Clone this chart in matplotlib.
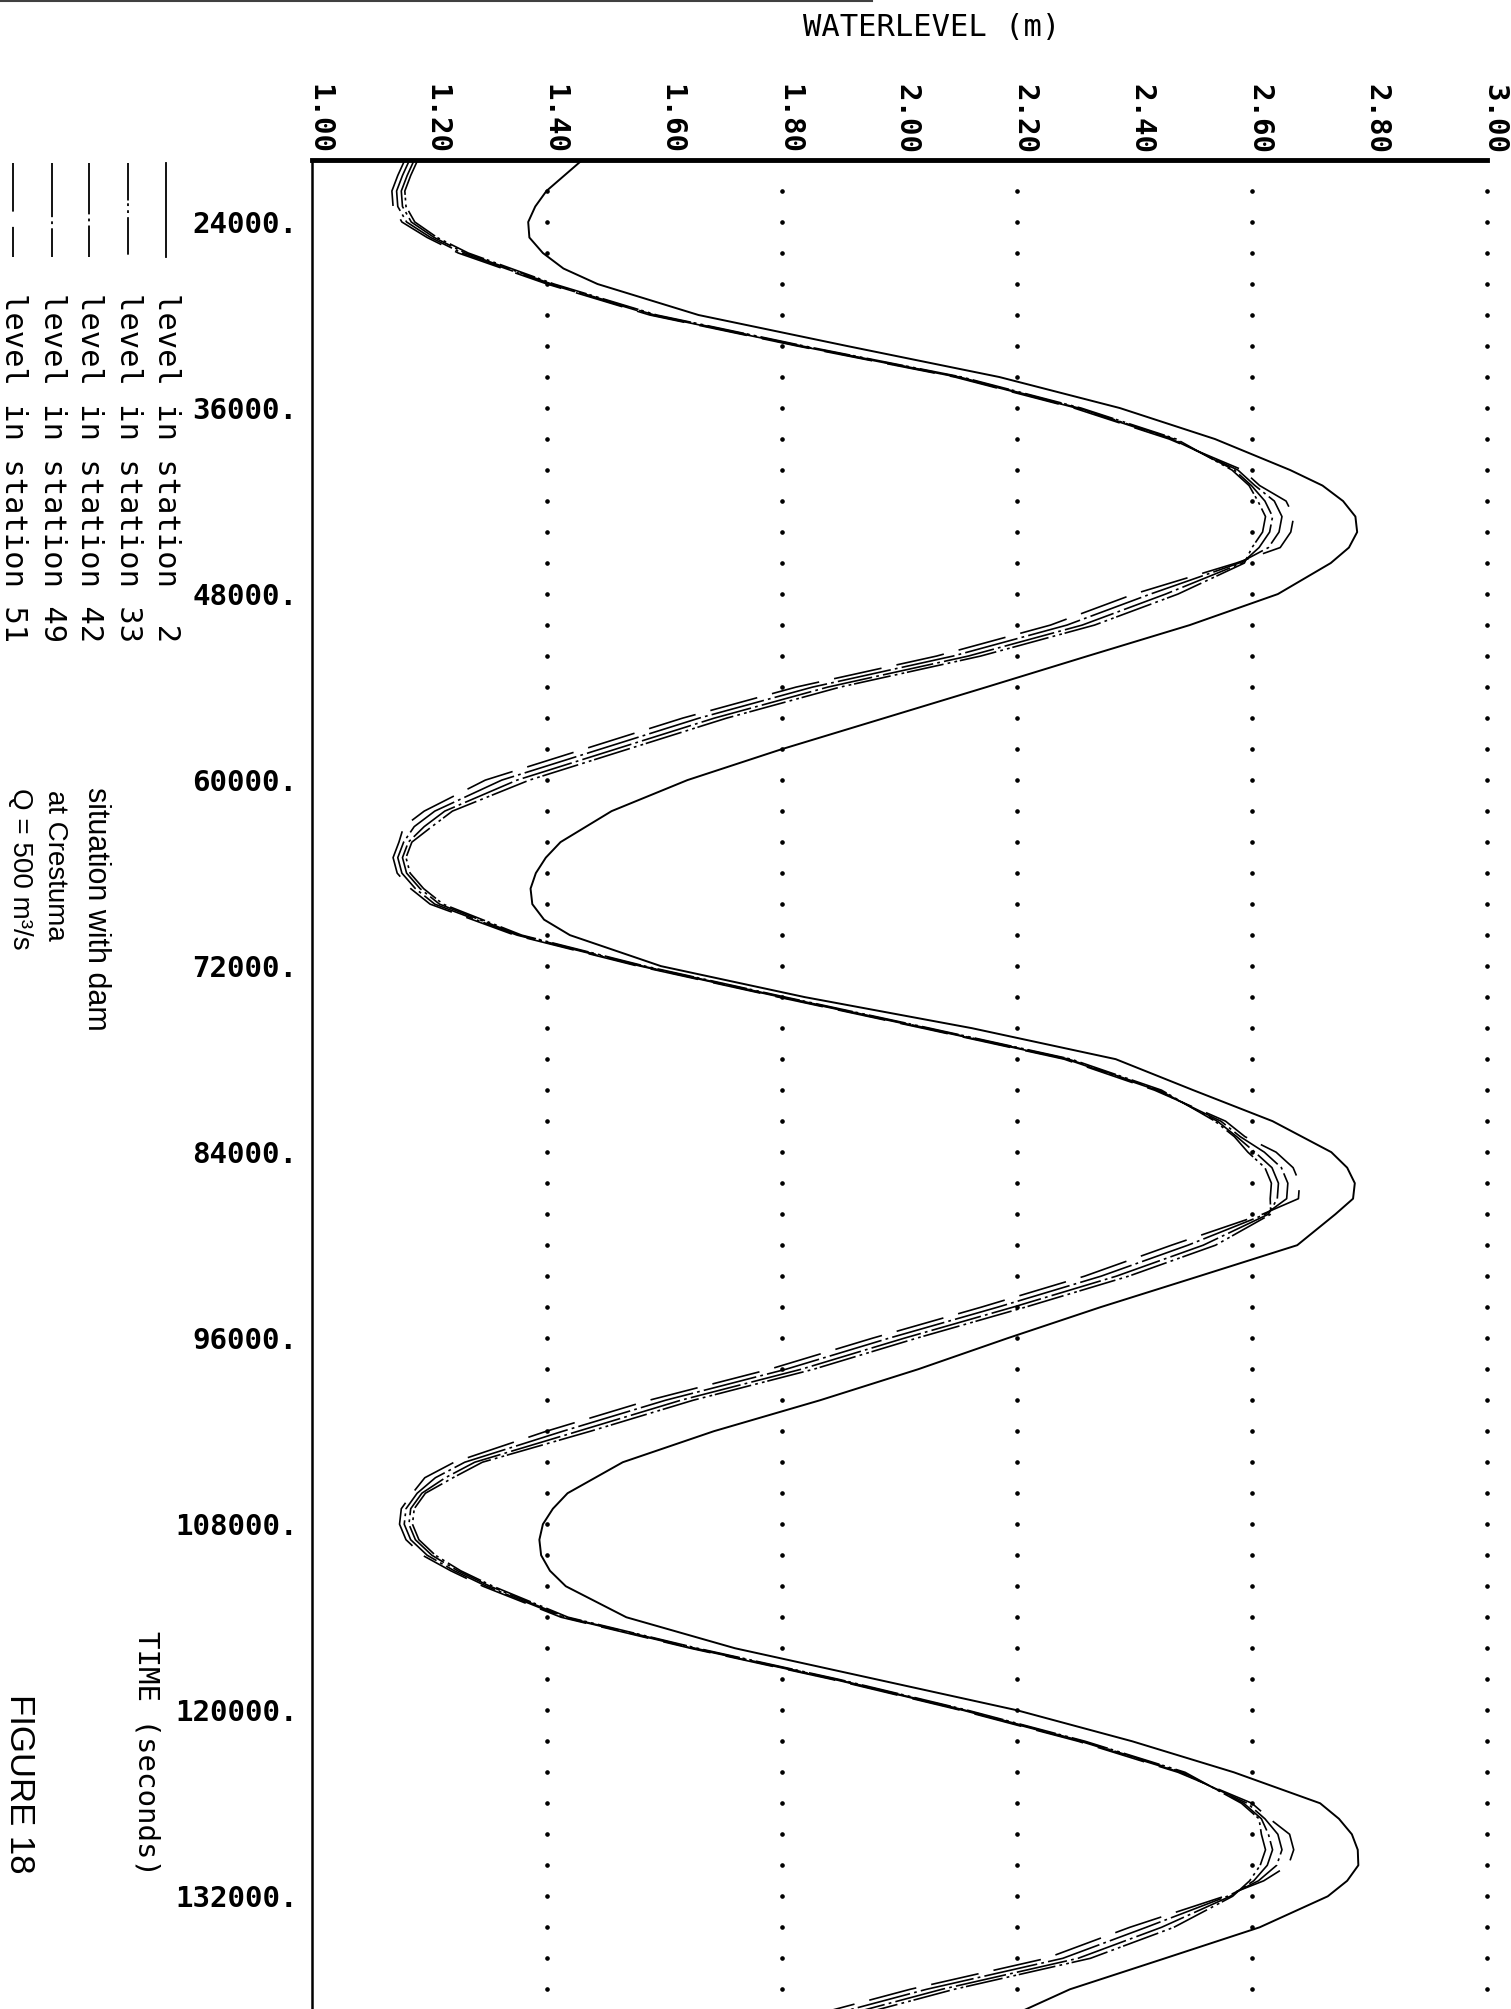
import numpy as np
import matplotlib
matplotlib.use("Agg")
from matplotlib import pyplot as plt
from matplotlib.lines import Line2D
from matplotlib import transforms

plt.rcParams["lines.scale_dashes"] = False

# time axis (seconds), values read every 2000 s
time_s = np.arange(20000, 140001, 2000)

level_st2 = [1.460, 1.399, 1.368, 1.393, 1.486, 1.658, 1.911, 2.170, 2.375, 2.537,
             2.665, 2.755, 2.779, 2.734, 2.644, 2.494, 2.320, 2.148, 1.974, 1.800,
             1.639, 1.510, 1.423, 1.381, 1.375, 1.439, 1.594, 1.839, 2.123, 2.368,
             2.500, 2.635, 2.735, 2.775, 2.742, 2.677, 2.510, 2.342, 2.184, 2.032,
             1.865, 1.684, 1.529, 1.435, 1.393, 1.390, 1.432, 1.535, 1.720, 1.960,
             2.200, 2.396, 2.569, 2.716, 2.770, 2.781, 2.729, 2.613, 2.452, 2.290,
             2.174]
level_st33 = [1.180, 1.158, 1.175, 1.266, 1.412, 1.587, 1.838, 2.106, 2.309, 2.471,
              2.566, 2.610, 2.618, 2.587, 2.474, 2.332, 2.138, 1.899, 1.706, 1.538,
              1.370, 1.239, 1.170, 1.167, 1.223, 1.357, 1.567, 1.806, 2.051, 2.292,
              2.446, 2.537, 2.593, 2.633, 2.632, 2.538, 2.390, 2.214, 2.029, 1.854,
              1.649, 1.474, 1.290, 1.193, 1.171, 1.210, 1.308, 1.436, 1.656, 1.896,
              2.116, 2.316, 2.486, 2.582, 2.616, 2.614, 2.567, 2.467, 2.325, 2.093,
              1.895]
level_st42 = [1.174, 1.152, 1.169, 1.261, 1.408, 1.583, 1.834, 2.102, 2.305, 2.467,
              2.570, 2.622, 2.630, 2.583, 2.453, 2.311, 2.117, 1.878, 1.685, 1.517,
              1.349, 1.226, 1.164, 1.161, 1.217, 1.353, 1.563, 1.802, 2.047, 2.288,
              2.442, 2.541, 2.605, 2.645, 2.628, 2.517, 2.369, 2.193, 2.008, 1.833,
              1.628, 1.453, 1.277, 1.187, 1.165, 1.204, 1.303, 1.432, 1.652, 1.892,
              2.112, 2.312, 2.482, 2.586, 2.628, 2.626, 2.563, 2.446, 2.304, 2.072,
              1.874]
level_st49 = [1.166, 1.144, 1.161, 1.255, 1.404, 1.579, 1.830, 2.098, 2.301, 2.463,
              2.576, 2.638, 2.646, 2.578, 2.427, 2.285, 2.091, 1.852, 1.659, 1.491,
              1.323, 1.209, 1.156, 1.153, 1.209, 1.349, 1.559, 1.798, 2.043, 2.284,
              2.438, 2.547, 2.621, 2.661, 2.623, 2.491, 2.343, 2.167, 1.982, 1.807,
              1.602, 1.427, 1.260, 1.179, 1.157, 1.196, 1.297, 1.428, 1.648, 1.888,
              2.108, 2.308, 2.478, 2.592, 2.644, 2.642, 2.558, 2.420, 2.278, 2.046,
              1.848]
level_st51 = [1.158, 1.136, 1.153, 1.249, 1.400, 1.575, 1.826, 2.094, 2.297, 2.459,
              2.584, 2.658, 2.666, 2.573, 2.399, 2.257, 2.063, 1.824, 1.631, 1.463,
              1.295, 1.191, 1.148, 1.145, 1.201, 1.345, 1.555, 1.794, 2.039, 2.280,
              2.434, 2.555, 2.641, 2.681, 2.618, 2.463, 2.315, 2.139, 1.954, 1.779,
              1.574, 1.399, 1.242, 1.171, 1.149, 1.188, 1.291, 1.424, 1.644, 1.884,
              2.104, 2.304, 2.474, 2.600, 2.664, 2.662, 2.553, 2.392, 2.250, 2.018,
              1.820]

# extra readings around the highs and lows
extra_t_st2 = [23000, 25000, 27000, 41000, 43000, 45000, 65000, 67000, 69000,
               85000, 87000, 107000, 109000, 111000, 127000, 129000, 131000]
extra_st2 = [1.380, 1.370, 1.428, 2.720, 2.776, 2.765, 1.398, 1.372, 1.395,
             2.762, 2.772, 1.410, 1.387, 1.405, 2.748, 2.780, 2.762]
extra_t_group = [21000, 23000, 25000, 41000, 43000, 45000, 63000, 65000, 67000,
                 83000, 85000, 87000, 105000, 107000, 109000, 111000, 127000, 129000, 131000]
extra_st33 = [1.168, 1.160, 1.213, 2.595, 2.623, 2.600, 1.204, 1.160, 1.190,
              2.570, 2.622, 2.631, 1.240, 1.174, 1.182, 1.253, 2.612, 2.623, 2.596]
extra_st42 = [1.162, 1.154, 1.208, 2.599, 2.635, 2.612, 1.191, 1.154, 1.184,
              2.574, 2.634, 2.643, 1.227, 1.168, 1.176, 1.248, 2.616, 2.635, 2.603]
extra_st49 = [1.154, 1.146, 1.202, 2.605, 2.651, 2.628, 1.174, 1.146, 1.176,
              2.580, 2.650, 2.659, 1.210, 1.160, 1.168, 1.242, 2.622, 2.651, 2.611]
extra_st51 = [1.146, 1.138, 1.196, 2.613, 2.671, 2.648, 1.156, 1.138, 1.168,
              2.588, 2.670, 2.679, 1.192, 1.152, 1.160, 1.236, 2.630, 2.671, 2.620]

station_names = ["2", "33", "42", "49", "51"]
station_levels = [level_st2, level_st33, level_st42, level_st49, level_st51]
station_extra = [extra_st2, extra_st33, extra_st42, extra_st49, extra_st51]
station_extra_t = [extra_t_st2] + [extra_t_group] * 4

xtick_vals = [1.0, 1.2, 1.4, 1.6, 1.8, 2.0, 2.2, 2.4, 2.6, 2.8, 3.0]
xtick_labels = ["1.00", "1.20", "1.40", "1.60", "1.80", "2.00", "2.20", "2.40", "2.60", "2.80", "3.00"]
time_ticks = [24000, 36000, 48000, 60000, 72000, 84000, 96000, 108000, 120000, 132000]
time_labels = ["24000.", "36000.", "48000.", "60000.", "72000.", "84000.", "96000.",
               "108000.", "120000.", "132000."]
grid_levels = [1.4, 1.8, 2.2, 2.6, 3.0]

styles = ["-", (0, (27, 2, 2, 3, 2, 3)), (0, (37, 3, 2, 3)), (0, (39, 3, 2, 3)), (0, (35, 11))]
mono = "DejaVu Sans Mono"
W, H = 1511, 2009

fig = plt.figure(figsize=(W / 100, H / 100), dpi=100)
ax = fig.add_axes([312 / W, 0, 1175 / W, 1849 / H])

# plotted curves
for lev, ext, ext_t, ls in zip(station_levels, station_extra, station_extra_t, styles):
    t = np.concatenate([time_s, ext_t])
    v = np.concatenate([lev, ext])
    order = np.argsort(t)
    ax.plot(v[order], t[order], color="black", linestyle=ls,
            linewidth=1.4 if ls == "-" else 1.2, solid_joinstyle="round")

# dotted grid
grid_t = np.arange(22000, 140000, 2000)
for g in grid_levels:
    ax.plot([g] * len(grid_t), grid_t, linestyle="none", marker="o", markersize=2.3,
            color="black", clip_on=False)

ax.set_xlim(1.0, 3.0)
ax.set_ylim(139270, 20000)

for side in ["right", "bottom"]:
    ax.spines[side].set_visible(False)
ax.spines["top"].set_linewidth(3.5)
ax.spines["left"].set_linewidth(1.8)

ax.set_xticks([])
ax.set_yticks(time_ticks)
ax.set_yticklabels(time_labels, fontfamily=mono, fontweight="bold", fontsize=21)
ax.tick_params(axis="y", length=0, pad=10.5)

# rotated level labels above the top line
xlab_tr = transforms.blended_transform_factory(ax.transData, ax.transAxes) + \
    transforms.ScaledTranslation(0.07, 0.06, fig.dpi_scale_trans)
for v, lab in zip(xtick_vals, xtick_labels):
    ax.text(v, 1.0, lab, transform=xlab_tr, rotation=-90, ha="center", va="bottom",
            fontfamily=mono, fontweight="bold", fontsize=21)

fig.text(932 / W, 1 - 28 / H, "WATERLEVEL (m)", ha="center", va="center",
         fontfamily=mono, fontsize=22)

# legend at left
legend_x = [166, 128, 89, 52, 13]
for x, name, ls in zip(legend_x, station_names, styles):
    fig.add_artist(Line2D([x / W, x / W], [1 - 163 / H, 1 - 257 / H], transform=fig.transFigure,
                          color="black", linestyle=ls, linewidth=1.3))
    fig.text(x / W, 1 - 293 / H, f"level in station {name:>2}", rotation=-90,
             ha="center", va="top", fontfamily=mono, fontsize=22)

fig.text(96 / W, 1 - 787 / H, "situation with dam", rotation=-90, ha="center", va="top",
         fontfamily="Liberation Sans", fontsize=22)
fig.text(55 / W, 1 - 790 / H, "at Crestuma", rotation=-90, ha="center", va="top",
         fontfamily="Liberation Sans", fontsize=20)
fig.text(20 / W, 1 - 788 / H, "Q = 500 m³/s", rotation=-90, ha="center", va="top",
         fontfamily="Liberation Sans", fontsize=20)

fig.text(146 / W, 1 - 1631 / H, "TIME (seconds)", rotation=-90, ha="center", va="top",
         fontfamily=mono, fontsize=21)
fig.text(19 / W, 1 - 1694 / H, "FIGURE 18", rotation=-90, ha="center", va="top",
         fontfamily="Liberation Sans", fontsize=25)

# page edge line at the top of the scan
fig.add_artist(Line2D([0, 872 / W], [1 - 1 / H, 1 - 1 / H], transform=fig.transFigure,
                      color="0.25", linewidth=1.5))

fig.savefig("out.png", dpi=100)
